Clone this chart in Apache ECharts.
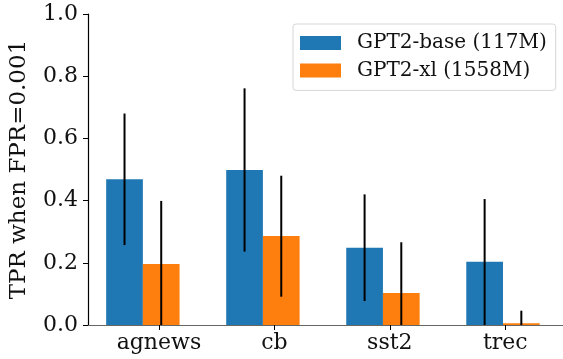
<!DOCTYPE html>
<html>
<head>
<meta charset="utf-8">
<script src="https://cdn.jsdelivr.net/npm/echarts@6/dist/echarts.min.js"></script>
<style>
  html, body { margin: 0; padding: 0; background: #fff; }
  #chart { width: 563px; height: 359px; }
</style>
</head>
<body>
<div id="chart"></div>
<script>
const categories = ['agnews', 'cb', 'sst2', 'trec'];
const seriesNames = ['GPT2-base (117M)', 'GPT2-xl (1558M)'];
const baseValues = [0.469, 0.498, 0.248, 0.203];
const baseErrLow = [0.257, 0.236, 0.077, 0.0];
const baseErrHigh = [0.680, 0.761, 0.420, 0.405];
const xlValues = [0.196, 0.286, 0.103, 0.006];
const xlErrLow = [-0.01, 0.091, -0.06, -0.03];
const xlErrHigh = [0.399, 0.480, 0.266, 0.046];

const FONT = 'DejaVu Serif';
const BAR_W = 36.7;

const chart = echarts.init(document.getElementById('chart'), null, { renderer: 'canvas' });

// error bars drawn through the bar grid's axes, shifted onto each bar's center
function errorBars(offset) {
  return function (params, api) {
    const lo = api.coord([api.value(0), api.value(1)]);
    const hi = api.coord([api.value(0), api.value(2)]);
    const cs = params.coordSys;
    const bottom = cs.y + cs.height;
    return {
      type: 'line',
      shape: { x1: lo[0] + offset, y1: Math.min(lo[1], bottom), x2: hi[0] + offset, y2: hi[1] },
      style: { stroke: '#000', lineWidth: 2 }
    };
  };
}

const option = {
  animation: false,
  textStyle: { fontFamily: FONT },
  grid: [
    { left: 85, top: 14, width: 480.5, height: 311 },
    { left: 82.85, top: 14, width: 484.4, height: 311 },
    { left: 101.2, top: 14, width: 484.4, height: 311 }
  ],
  legend: {
    orient: 'vertical',
    left: 293,
    top: 24,
    data: seriesNames,
    itemWidth: 41,
    itemHeight: 14,
    itemGap: 7.4,
    padding: [9, 9, 10, 7],
    borderColor: '#d6d6d6',
    borderWidth: 1,
    borderRadius: 3,
    backgroundColor: 'rgba(255,255,255,0.8)',
    icon: 'rect',
    textStyle: { fontFamily: FONT, fontSize: 20, color: '#111', padding: [0, 0, 0, 11] }
  },
  xAxis: [
    // frame: bottom spine
    { gridIndex: 0, type: 'value', min: 0, max: 1, axisLine: { show: true, onZero: false, lineStyle: { color: '#000', width: 1.2 } },
      axisTick: { show: false }, axisLabel: { show: false }, splitLine: { show: false } },
    // frame: top spine
    { gridIndex: 0, type: 'value', position: 'top', min: 0, max: 1, axisLine: { show: true, lineStyle: { color: '#666', width: 1.2 } },
      axisTick: { show: false }, axisLabel: { show: false }, splitLine: { show: false } },
    // bars
    { gridIndex: 1, type: 'category', data: categories, show: false },
    // tick labels under the orange bars
    { gridIndex: 2, type: 'category', data: categories,
      axisLine: { show: false },
      axisTick: { show: true, alignWithLabel: true, length: 5, lineStyle: { color: '#000', width: 1 } },
      axisLabel: { margin: 7, formatter: v => '{s|' + v + '}',
        rich: { s: { fontFamily: FONT, fontSize: 22, color: '#111' } } } }
  ],
  yAxis: [
    { gridIndex: 0, type: 'value', min: 0, max: 1, interval: 0.2,
      name: 'TPR when FPR=0.001', nameLocation: 'middle', nameGap: 57, nameRotate: 90,
      nameTextStyle: { fontFamily: FONT, fontSize: 23, color: '#111' },
      axisLine: { show: true, lineStyle: { color: '#000', width: 1.2 } },
      axisTick: { show: true, length: 5, lineStyle: { color: '#000' } },
      axisLabel: { fontFamily: FONT, fontSize: 22, color: '#111', margin: 10, formatter: v => v.toFixed(1) },
      splitLine: { show: false } },
    { gridIndex: 1, type: 'value', min: 0, max: 1, show: false },
    { gridIndex: 2, type: 'value', min: 0, max: 1, show: false }
  ],
  series: [
    { name: seriesNames[0], type: 'bar', xAxisIndex: 2, yAxisIndex: 1, data: baseValues,
      barWidth: BAR_W, barGap: '0%', itemStyle: { color: '#1f77b4' } },
    { name: seriesNames[1], type: 'bar', xAxisIndex: 2, yAxisIndex: 1, data: xlValues,
      barWidth: BAR_W, barGap: '0%', itemStyle: { color: '#ff7f0e' } },
    { type: 'custom', xAxisIndex: 2, yAxisIndex: 1, renderItem: errorBars(-BAR_W / 2), z: 5,
      encode: { x: 0, y: [1, 2] },
      data: categories.map((c, i) => [i, baseErrLow[i], baseErrHigh[i]]) },
    { type: 'custom', xAxisIndex: 2, yAxisIndex: 1, renderItem: errorBars(BAR_W / 2), z: 5,
      encode: { x: 0, y: [1, 2] },
      data: categories.map((c, i) => [i, xlErrLow[i], xlErrHigh[i]]) }
  ]
};

chart.setOption(option);
</script>
</body>
</html>
